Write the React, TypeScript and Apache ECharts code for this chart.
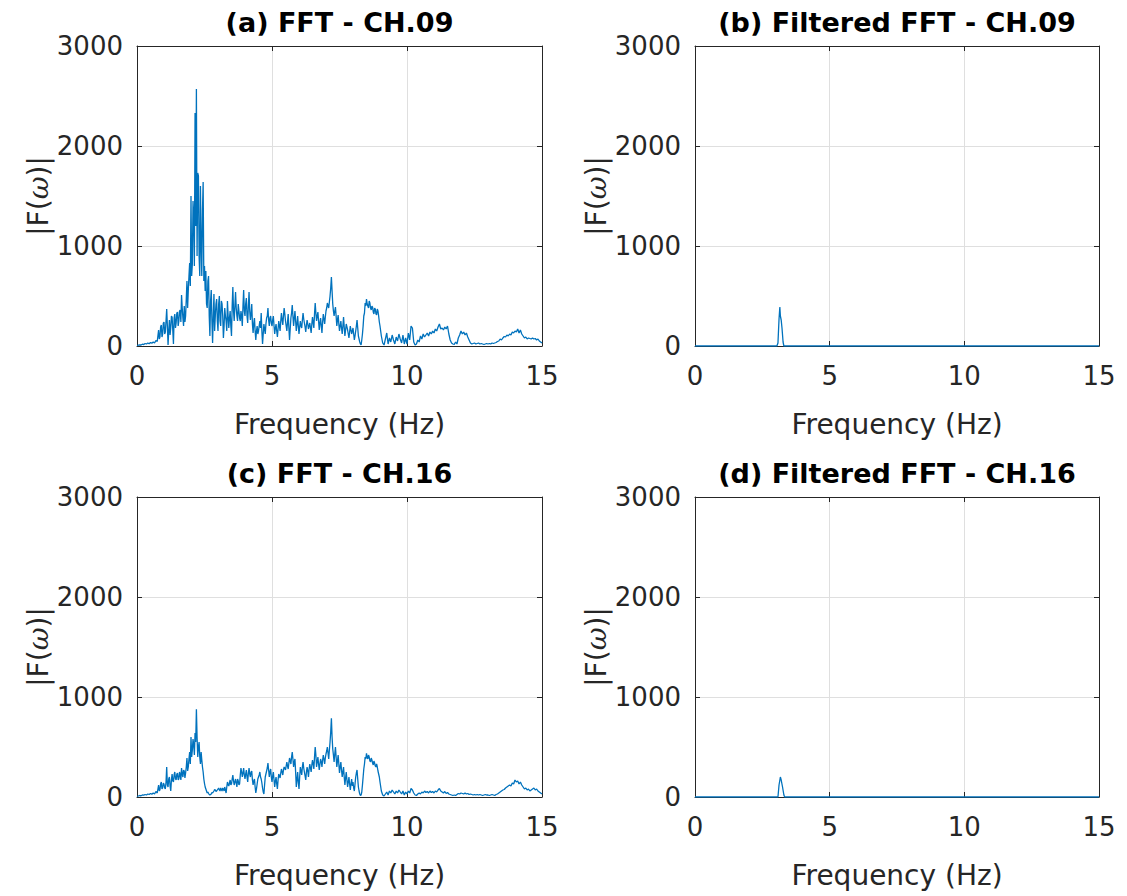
import React, { useEffect, useRef } from "react";
import * as echarts from "echarts";

// Frequency resolution of the coarse spectra (Hz) and the extra in-between samples
const freqStep = 0.05;
const midStart = 0.825; // first in-between sample, then every 0.05 Hz up to 8.975

const panelTitles = [
  "(a) FFT - CH.09",
  "(b) Filtered FFT - CH.09",
  "(c) FFT - CH.16",
  "(d) Filtered FFT - CH.16",
];
const xTickValues = [0, 5, 10, 15];
const yTickValues = [0, 1000, 2000, 3000];
const xName = "Frequency (Hz)";
const yName = "|F({w|ω})|";

// |F(ω)| for CH.09, 0 .. 15 Hz every 0.05 Hz
const ch09 = [
  5, 8, 12, 10, 18, 15, 25, 20, 30, 22, 35, 28, 40, 30, 55, 45, 160, 90, 210, 120,
  240, 140, 370, 10, 260, 180, 290, 20, 320, 230, 340, 250, 360, 510, 280, 400, 300, 650, 560, 830,
  1500, 820, 1300, 2330, 2570, 1730, 900, 1600, 700, 1640, 800, 750, 380, 700, 100, 560, 30, 520, 300, 470,
  150, 500, 200, 420, 80, 380, 250, 450, 180, 350, 100, 590, 250, 540, 300, 420, 280, 350, 200, 560,
  300, 480, 230, 540, 260, 420, 130, 280, 60, 200, 150, 250, 330, 20, 220, 120, 280, 380, 200, 300,
  200, 300, 120, 220, 90, 250, 150, 330, 210, 380, 250, 150, 320, 60, 280, 410, 200, 350, 150, 300,
  120, 250, 180, 330, 230, 140, 260, 170, 230, 130, 290, 180, 430, 250, 340, 160, 280, 130, 320, 220,
  350, 430, 380, 500, 690, 420, 300, 390, 200, 310, 150, 250, 120, 290, 100, 220, 160, 80, 200, 120,
  180, 60, 150, 260, 100, 40, 10, 120, 300, 430, 470, 420, 450, 380, 400, 340, 380, 320, 370, 300,
  200, 100, 30, 10, 70, 130, 20, 80, 40, 110, 60, 20, 90, 50, 120, 70, 30, 110, 20, 80,
  20, 130, 60, 200, 180, 40, 10, 20, 60, 40, 100, 70, 120, 90, 110, 130, 100, 140, 120, 150,
  130, 170, 150, 190, 220, 170, 180, 160, 190, 170, 200, 120, 60, 30, 20, 15, 40, 20, 80, 110,
  150, 120, 140, 110, 130, 90, 60, 30, 20, 25, 30, 20, 25, 30, 20, 25, 20, 15, 20, 25,
  20, 25, 20, 30, 25, 30, 35, 45, 50, 70, 60, 80, 95, 90, 110, 100, 120, 110, 140, 130,
  150, 140, 170, 130, 160, 120, 100, 80, 90, 70, 80, 75, 70, 80, 70, 75, 60, 70, 50, 40, 30,
];
// CH.09 in-between samples, 0.825 .. 8.975 Hz (dense, oscillating part)
const ch09Mid = [
  70, 190, 90, 230,
  120, 250, 200, 150, 110, 300, 160, 280, 180, 330, 200, 350, 240, 380, 200, 240, 470, 380, 700, 600,
  700, 1450, 800, 1200, 900, 1700, 700, 1000, 1350, 650, 550, 420, 650, 300, 450, 250, 300, 150, 420, 250,
  420, 250, 450, 300, 200, 300, 150, 300, 280, 200, 400, 350, 400, 380, 250, 350, 250, 300, 400, 350,
  420, 300, 400, 350, 320, 220, 230, 150, 150, 120, 200, 180, 150, 120, 170, 220, 300, 260, 280, 230,
  260, 200, 180, 150, 170, 200, 250, 260, 300, 320, 200, 240, 180, 170, 330, 300, 280, 250, 220, 200,
  190, 200, 260, 270, 190, 210, 220, 200, 180, 220, 230, 320, 330, 300, 250, 230, 200, 240, 270, 290,
  380, 400, 440, 580, 550, 350, 350, 300, 260, 220, 200, 180, 200, 190, 160, 190, 120, 140, 160, 150,
  120, 100, 200, 180, 70, 20, 60, 200, 330, 400, 420, 380, 430, 360, 390, 320, 370, 310, 350, 240,
];

// |F(ω)| for CH.16, 0 .. 15 Hz every 0.05 Hz
const ch16 = [
  5, 10, 15, 12, 20, 18, 25, 20, 30, 25, 35, 28, 40, 30, 55, 40, 120, 70, 150, 90,
  130, 80, 300, 100, 200, 60, 230, 150, 250, 170, 240, 180, 220, 290, 200, 260, 240, 390, 300, 450,
  600, 470, 520, 640, 877, 400, 550, 330, 370, 250, 135, 80, 40, 35, 20, 30, 40, 60, 70, 60,
  80, 70, 90, 60, 80, 100, 40, 150, 110, 170, 130, 220, 120, 180, 100, 160, 130, 290, 200, 290,
  180, 270, 150, 290, 200, 260, 120, 180, 40, 130, 200, 250, 180, 90, 30, 200, 260, 340, 200, 280,
  150, 250, 100, 200, 80, 230, 190, 280, 220, 300, 270, 350, 280, 390, 330, 450, 300, 380, 100, 250,
  80, 300, 220, 350, 250, 170, 300, 200, 330, 250, 370, 280, 500, 300, 400, 270, 380, 300, 420, 330,
  430, 500, 380, 550, 787, 480, 350, 500, 300, 420, 240, 350, 200, 300, 120, 250, 100, 200, 70, 180,
  150, 60, 200, 270, 100, 30, 20, 120, 280, 400, 437, 380, 400, 350, 370, 320, 340, 300, 300, 230,
  150, 60, 20, 10, 30, 50, 20, 60, 40, 70, 50, 30, 60, 40, 70, 50, 30, 60, 20, 50,
  30, 60, 40, 85, 70, 40, 20, 15, 30, 40, 30, 50, 40, 60, 45, 55, 40, 60, 45, 55,
  40, 60, 50, 70, 85, 60, 50, 40, 55, 35, 45, 30, 25, 20, 15, 20, 15, 25, 35, 30,
  40, 35, 30, 40, 30, 35, 25, 30, 25, 20, 25, 20, 25, 20, 25, 20, 15, 20, 25, 20,
  20, 15, 20, 25, 20, 15, 25, 30, 40, 50, 60, 70, 75, 90, 100, 110, 120, 110, 140, 130,
  170, 150, 160, 130, 150, 120, 100, 80, 90, 70, 80, 60, 70, 80, 90, 70, 80, 60, 50, 40, 30,
];
// CH.16 in-between samples, 0.825 .. 8.975 Hz
const ch16Mid = [
  60, 130, 80, 140,
  90, 150, 120, 180, 110, 170, 160, 220, 180, 230, 170, 250, 170, 230, 270, 190, 300, 260, 380, 330,
  400, 580, 420, 550, 600, 500, 400, 450, 300, 180, 100, 60, 50, 25, 25, 45, 50, 75, 55, 70,
  90, 60, 75, 90, 60, 70, 100, 120, 140, 120, 180, 160, 150, 140, 180, 120, 220, 250, 240, 220,
  230, 200, 240, 230, 250, 170, 160, 100, 80, 180, 220, 200, 140, 50, 120, 230, 290, 270, 250, 200,
  210, 170, 160, 130, 170, 210, 240, 250, 270, 290, 310, 310, 340, 360, 400, 380, 350, 250, 170, 150,
  200, 260, 300, 290, 210, 250, 260, 280, 290, 320, 330, 400, 420, 350, 330, 330, 350, 370, 380, 390,
  460, 440, 470, 650, 600, 420, 430, 400, 360, 330, 300, 270, 250, 200, 190, 170, 150, 130, 130, 110,
  90, 130, 240, 180, 60, 15, 50, 200, 330, 380, 400, 420, 360, 390, 340, 360, 310, 330, 260, 200,
];

// Filtered spectra (band around 3.2 Hz), sparse points
const filt09Freq = [0, 3.04, 3.08, 3.12, 3.15, 3.17, 3.2, 3.23, 3.27, 3.3, 15];
const filt09Val = [0, 0, 30, 270, 390, 300, 260, 180, 40, 0, 0];
const filt16Freq = [0, 3.08, 3.12, 3.17, 3.2, 3.25, 3.3, 3.33, 15];
const filt16Val = [0, 0, 120, 200, 170, 100, 20, 0, 0];

const FONT = "'DejaVu Sans', 'Liberation Sans', sans-serif";
const AX = "#262626";
const GRID_C = "#dfdfdf";
const LINE_C = "#0072BD";

const grids = [
  { left: 137, top: 46, width: 405, height: 300 },
  { left: 695, top: 46, width: 404, height: 300 },
  { left: 137, top: 497, width: 405, height: 300 },
  { left: 695, top: 497, width: 404, height: 300 },
];

function mergeSpectrum(coarse: number[], mid: number[]) {
  const pts: number[][] = coarse.map((v, i) => [+(i * freqStep).toFixed(3), v]);
  mid.forEach((v, k) => pts.push([+(midStart + k * freqStep).toFixed(3), v]));
  pts.sort((a, b) => a[0] - b[0]);
  return pts;
}

function buildOption() {
  const series0 = mergeSpectrum(ch09, ch09Mid);
  const series1 = filt09Freq.map((f, i) => [f, filt09Val[i]]);
  const series2 = mergeSpectrum(ch16, ch16Mid);
  const series3 = filt16Freq.map((f, i) => [f, filt16Val[i]]);
  const datas = [series0, series1, series2, series3];

  const xAxis: any[] = [];
  const yAxis: any[] = [];
  const series: any[] = [];
  const xMin = xTickValues[0];
  const xMax = xTickValues[xTickValues.length - 1];
  const xInt = xTickValues[1] - xTickValues[0];
  const yMin = yTickValues[0];
  const yMax = yTickValues[yTickValues.length - 1];
  const yInt = yTickValues[1] - yTickValues[0];
  const plain = (v: number) => String(v);

  grids.forEach((g, i) => {
    xAxis.push({
      gridIndex: i,
      type: "value",
      position: "bottom",
      min: xMin,
      max: xMax,
      interval: xInt,
      axisLine: { show: true, onZero: false, lineStyle: { color: AX, width: 1 } },
      axisTick: { show: true, inside: true, length: 5, lineStyle: { color: AX } },
      axisLabel: { color: AX, fontSize: 26, fontFamily: FONT, margin: 17, formatter: plain },
      splitLine: { show: true, lineStyle: { color: GRID_C, width: 1 } },
      name: xName,
      nameLocation: "middle",
      nameGap: 64,
      nameTextStyle: { color: AX, fontSize: 28, fontFamily: FONT },
    });
    xAxis.push({
      gridIndex: i,
      type: "value",
      position: "top",
      min: xMin,
      max: xMax,
      interval: xInt,
      axisLine: { show: true, onZero: false, lineStyle: { color: AX, width: 1 } },
      axisTick: { show: true, inside: true, length: 5, lineStyle: { color: AX } },
      axisLabel: { show: false },
      splitLine: { show: false },
      name: panelTitles[i],
      nameLocation: "middle",
      nameGap: 10,
      nameTextStyle: { color: "#000", fontSize: 27, fontWeight: "bold", fontFamily: FONT },
    });
    yAxis.push({
      gridIndex: i,
      type: "value",
      position: "left",
      min: yMin,
      max: yMax,
      interval: yInt,
      axisLine: { show: true, onZero: false, lineStyle: { color: AX, width: 1 } },
      axisTick: { show: true, inside: true, length: 5, lineStyle: { color: AX } },
      axisLabel: { color: AX, fontSize: 26, fontFamily: FONT, margin: 14, formatter: plain },
      splitLine: { show: true, lineStyle: { color: GRID_C, width: 1 } },
      name: yName,
      nameLocation: "middle",
      nameGap: 84,
      nameTextStyle: {
        color: AX,
        fontSize: 28,
        fontFamily: FONT,
        rich: {
          w: { color: AX, fontSize: 28, fontFamily: "'DejaVu Serif', serif", fontStyle: "italic" },
        },
      },
    });
    yAxis.push({
      gridIndex: i,
      type: "value",
      position: "right",
      min: yMin,
      max: yMax,
      interval: yInt,
      axisLine: { show: true, onZero: false, lineStyle: { color: AX, width: 1 } },
      axisTick: { show: true, inside: true, length: 5, lineStyle: { color: AX } },
      axisLabel: { show: false },
      splitLine: { show: false },
    });
    series.push({
      type: "line",
      xAxisIndex: 2 * i,
      yAxisIndex: 2 * i,
      data: datas[i],
      symbol: "none",
      showSymbol: false,
      sampling: undefined,
      lineStyle: { color: LINE_C, width: 1.3 },
      itemStyle: { color: LINE_C },
      z: 3,
    });
  });

  return {
    animation: false,
    backgroundColor: "#ffffff",
    grid: grids.map((g) => ({ ...g, containLabel: false })),
    xAxis,
    yAxis,
    series,
  };
}

export default function App() {
  const ref = useRef<HTMLDivElement | null>(null);
  useEffect(() => {
    document.body.style.margin = "0";
    if (!ref.current) return;
    const chart = echarts.init(ref.current, null, { renderer: "svg" });
    chart.setOption(buildOption() as any);
    return () => chart.dispose();
  }, []);
  return <div ref={ref} style={{ width: 1127, height: 896, background: "#fff" }} />;
}
